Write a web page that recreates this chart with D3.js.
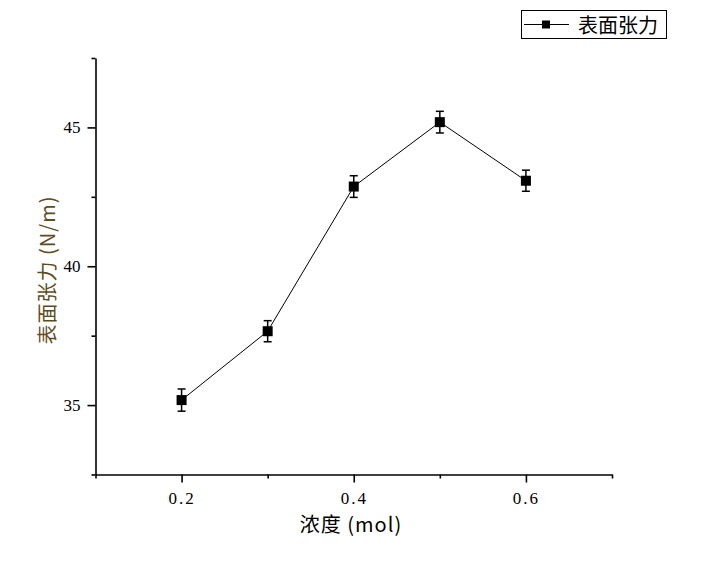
<!DOCTYPE html>
<html><head><meta charset="utf-8">
<script src="https://cdn.jsdelivr.net/npm/d3@7"></script>
<style>body{margin:0;background:#fff}</style>
</head><body><svg id="c" width="705" height="561"></svg>
<script>
const concentration = [0.2, 0.3, 0.4, 0.5, 0.6];
const tension = [35.18, 37.66, 42.87, 45.19, 43.08];
const tensionErr = [0.40, 0.38, 0.39, 0.39, 0.38];
const xMajorTicks = [0.2, 0.4, 0.6];
const xMinorTicks = [0.1, 0.3, 0.5, 0.7];
const yMajorTicks = [35, 40, 45];
const yMinorTicks = [32.5, 37.5, 42.5, 47.5];
const seriesName = "表面张力";
const xTitle = "浓度 (mol)";
const yTitle = "表面张力 (N/m)";

const data = concentration.map((c, i) => ({x: c, y: tension[i], e: tensionErr[i]}));
const svg = d3.select("#c");
svg.append("rect").attr("width", 705).attr("height", 561).attr("fill", "#fff");

const x = d3.scaleLinear().domain([0.1, 0.7]).range([95.5, 612]);
const y = d3.scaleLinear().domain([32.5, 47.5]).range([474.5, 58]);

const serif = "'Liberation Serif','DejaVu Serif',serif";
const cjk = "'Noto Sans CJK SC','Noto Sans',sans-serif";

// X axis
const gx = svg.append("g").attr("transform", `translate(0,${y(32.5)})`);
gx.call(d3.axisBottom(x).tickValues(xMinorTicks).tickSize(4).tickSizeOuter(0).tickFormat(""));
const gx2 = svg.append("g").attr("transform", `translate(0,${y(32.5)})`);
gx2.call(d3.axisBottom(x).tickValues(xMajorTicks).tickSize(8).tickSizeOuter(0).tickPadding(9).tickFormat(d3.format(".1f")));
gx2.select(".domain").remove();

// Y axis
const gy = svg.append("g").attr("transform", `translate(${x(0.1)},0)`);
gy.call(d3.axisLeft(y).tickValues(yMinorTicks).tickSize(4).tickSizeOuter(0).tickFormat(""));
const gy2 = svg.append("g").attr("transform", `translate(${x(0.1)},0)`);
gy2.call(d3.axisLeft(y).tickValues(yMajorTicks).tickSize(8).tickSizeOuter(0).tickPadding(7).tickFormat(d3.format("d")));
gy2.select(".domain").remove();

svg.selectAll(".domain, .tick line").attr("stroke", "#000").attr("stroke-width", 1.6);
svg.selectAll("g").attr("font-family", serif);
svg.selectAll(".tick text").attr("font-family", serif).attr("font-size", 17).attr("fill", "#000");
gx2.selectAll(".tick text").attr("letter-spacing", "2px");

// line
svg.append("path").datum(data)
  .attr("d", d3.line().x(d => x(d.x)).y(d => y(d.y)))
  .attr("fill", "none").attr("stroke", "#000").attr("stroke-width", 1);

// error bars
const eb = svg.append("g").attr("stroke", "#000").attr("stroke-width", 1.5);
data.forEach(d => {
  const cx = x(d.x);
  eb.append("line").attr("x1", cx).attr("x2", cx).attr("y1", y(d.y + d.e)).attr("y2", y(d.y - d.e));
  eb.append("line").attr("x1", cx - 4).attr("x2", cx + 4).attr("y1", y(d.y + d.e)).attr("y2", y(d.y + d.e));
  eb.append("line").attr("x1", cx - 4).attr("x2", cx + 4).attr("y1", y(d.y - d.e)).attr("y2", y(d.y - d.e));
});

// markers
svg.append("g").selectAll("rect").data(data).join("rect")
  .attr("x", d => x(d.x) - 5).attr("y", d => y(d.y) - 5)
  .attr("width", 10).attr("height", 10).attr("fill", "#000");

// axis titles
svg.append("text").attr("x", 351).attr("y", 532).attr("text-anchor", "middle")
  .attr("font-family", cjk).attr("font-size", 20).attr("letter-spacing", "1px").attr("fill", "#000").text(xTitle);
svg.append("text").attr("transform", "translate(55,270) rotate(-90)").attr("text-anchor", "middle")
  .attr("font-family", cjk).attr("font-size", 20).attr("letter-spacing", "1px").attr("fill", "#5f4c1e").text(yTitle);

// legend
const lg = svg.append("g");
lg.append("rect").attr("x", 521.5).attr("y", 10.5).attr("width", 145).attr("height", 28)
  .attr("fill", "#fff").attr("stroke", "#000").attr("stroke-width", 1);
lg.append("line").attr("x1", 524).attr("x2", 569).attr("y1", 24.5).attr("y2", 24.5)
  .attr("stroke", "#000").attr("stroke-width", 1);
lg.append("rect").attr("x", 542).attr("y", 20.5).attr("width", 8).attr("height", 8).attr("fill", "#000");
lg.append("text").attr("x", 578).attr("y", 33).attr("font-family", cjk).attr("font-size", 20)
  .attr("fill", "#000").text(seriesName);
</script></body></html>
